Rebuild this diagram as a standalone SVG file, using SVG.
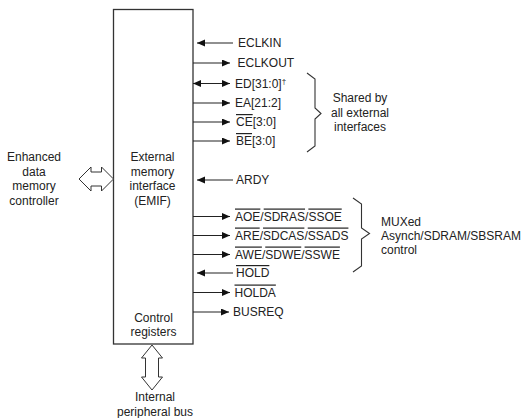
<svg xmlns="http://www.w3.org/2000/svg" width="524" height="418" viewBox="0 0 524 418">
<style>
text{font-family:"Liberation Sans",Arial,sans-serif;font-size:12px;fill:#222}
.c{text-anchor:middle}
.ov{text-decoration:overline}
.ln{stroke:#222;stroke-width:1.1;fill:none}
.box{fill:#fff;stroke:#333;stroke-width:1.3}
.dbl{fill:#fff;stroke:#333;stroke-width:1}
.br{fill:none;stroke:#333;stroke-width:1.1}
</style>
<defs>
<marker id="ah" markerUnits="userSpaceOnUse" markerWidth="9" markerHeight="8" refX="8" refY="3.5" orient="auto-start-reverse">
<path d="M0,0 L8,3.5 L0,7 z" fill="#111"/>
</marker>
</defs>
<rect width="524" height="418" fill="#fff"/>

<g id="emif">
<rect class="box" x="113.5" y="9.5" width="79.5" height="334.5"/>
<text class="c" x="152.5" y="161">External</text>
<text class="c" x="152.5" y="175.5">memory</text>
<text class="c" x="152.5" y="190">interface</text>
<text class="c" x="152.5" y="204.5">(EMIF)</text>
<text class="c" x="153.5" y="322">Control</text>
<text class="c" x="153.5" y="336">registers</text>
</g>

<g id="edmc">
<text class="c" x="34" y="161">Enhanced</text>
<text class="c" x="34" y="175.5">data</text>
<text class="c" x="34" y="190">memory</text>
<text class="c" x="34" y="204.5">controller</text>
</g>

<g id="periph">
<text class="c" x="155" y="400.5">Internal</text>
<text class="c" x="155" y="416">peripheral bus</text>
</g>

<g id="connectors">
<polygon class="dbl" points="79,179 91,167 91,172 101.5,172 101.5,167 113.5,179 101.5,191 101.5,186 91,186 91,191"/>
<polygon class="dbl" points="152,345 141.5,358 145.5,358 145.5,377 141.5,377 152,390 162.5,377 158.5,377 158.5,358 162.5,358"/>
<line class="ln" x1="233" y1="43" x2="197" y2="43" marker-end="url(#ah)"/>
<line class="ln" x1="193" y1="63" x2="230" y2="63" marker-end="url(#ah)"/>
<line class="ln" x1="193" y1="83.5" x2="230" y2="83.5" marker-start="url(#ah)" marker-end="url(#ah)"/>
<line class="ln" x1="193" y1="103" x2="230" y2="103" marker-end="url(#ah)"/>
<line class="ln" x1="193" y1="122" x2="230" y2="122" marker-end="url(#ah)"/>
<line class="ln" x1="193" y1="141" x2="230" y2="141" marker-end="url(#ah)"/>
<line class="ln" x1="233" y1="180" x2="197" y2="180" marker-end="url(#ah)"/>
<line class="ln" x1="193" y1="216.5" x2="230" y2="216.5" marker-end="url(#ah)"/>
<line class="ln" x1="193" y1="235.5" x2="230" y2="235.5" marker-end="url(#ah)"/>
<line class="ln" x1="193" y1="254.5" x2="230" y2="254.5" marker-end="url(#ah)"/>
<line class="ln" x1="233" y1="273" x2="197" y2="273" marker-end="url(#ah)"/>
<line class="ln" x1="193" y1="292.5" x2="230" y2="292.5" marker-end="url(#ah)"/>
<line class="ln" x1="193" y1="312" x2="229" y2="312" marker-end="url(#ah)"/>
</g>

<g id="signals">
<text x="238" y="47">ECLKIN</text>
<text x="237.5" y="67">ECLKOUT</text>
<text x="235" y="87.5">ED[31:0]<tspan font-size="8" dy="-4">†</tspan></text>
<text x="235" y="107">EA[21:2]</text>
<text x="236" y="126"><tspan class="ov">CE</tspan>[3:0]</text>
<text x="236" y="145"><tspan class="ov">BE</tspan>[3:0]</text>
<text x="236" y="184">ARDY</text>
<text x="235" y="220.5"><tspan class="ov">AOE</tspan>/<tspan class="ov">SDRAS</tspan>/<tspan class="ov">SSOE</tspan></text>
<text x="235" y="239.5"><tspan class="ov">ARE</tspan>/<tspan class="ov">SDCAS</tspan>/<tspan class="ov">SSADS</tspan></text>
<text x="235" y="258.5"><tspan class="ov">AWE</tspan>/<tspan class="ov">SDWE</tspan>/<tspan class="ov">SSWE</tspan></text>
<text x="236" y="277"><tspan class="ov">HOLD</tspan></text>
<text x="234.5" y="296.5"><tspan class="ov">HOLDA</tspan></text>
<text x="233" y="316">BUSREQ</text>
</g>

<g id="shared">
<path class="br" d="M307,73 L315,79 L315,108 L321,113.5 L315,119 L315,146 L307,152"/>
<text class="c" x="360" y="102">Shared by</text>
<text class="c" x="360" y="116.5">all external</text>
<text class="c" x="360" y="131">interfaces</text>
</g>

<g id="muxed">
<path class="br" d="M353,198 L361.5,204 L361.5,228 L369.5,233.5 L361.5,239 L361.5,266 L353,272"/>
<text x="381" y="225.5">MUXed</text>
<text x="381" y="239.5">Asynch/SDRAM/SBSRAM</text>
<text x="381" y="253.5">control</text>
</g>
</svg>
